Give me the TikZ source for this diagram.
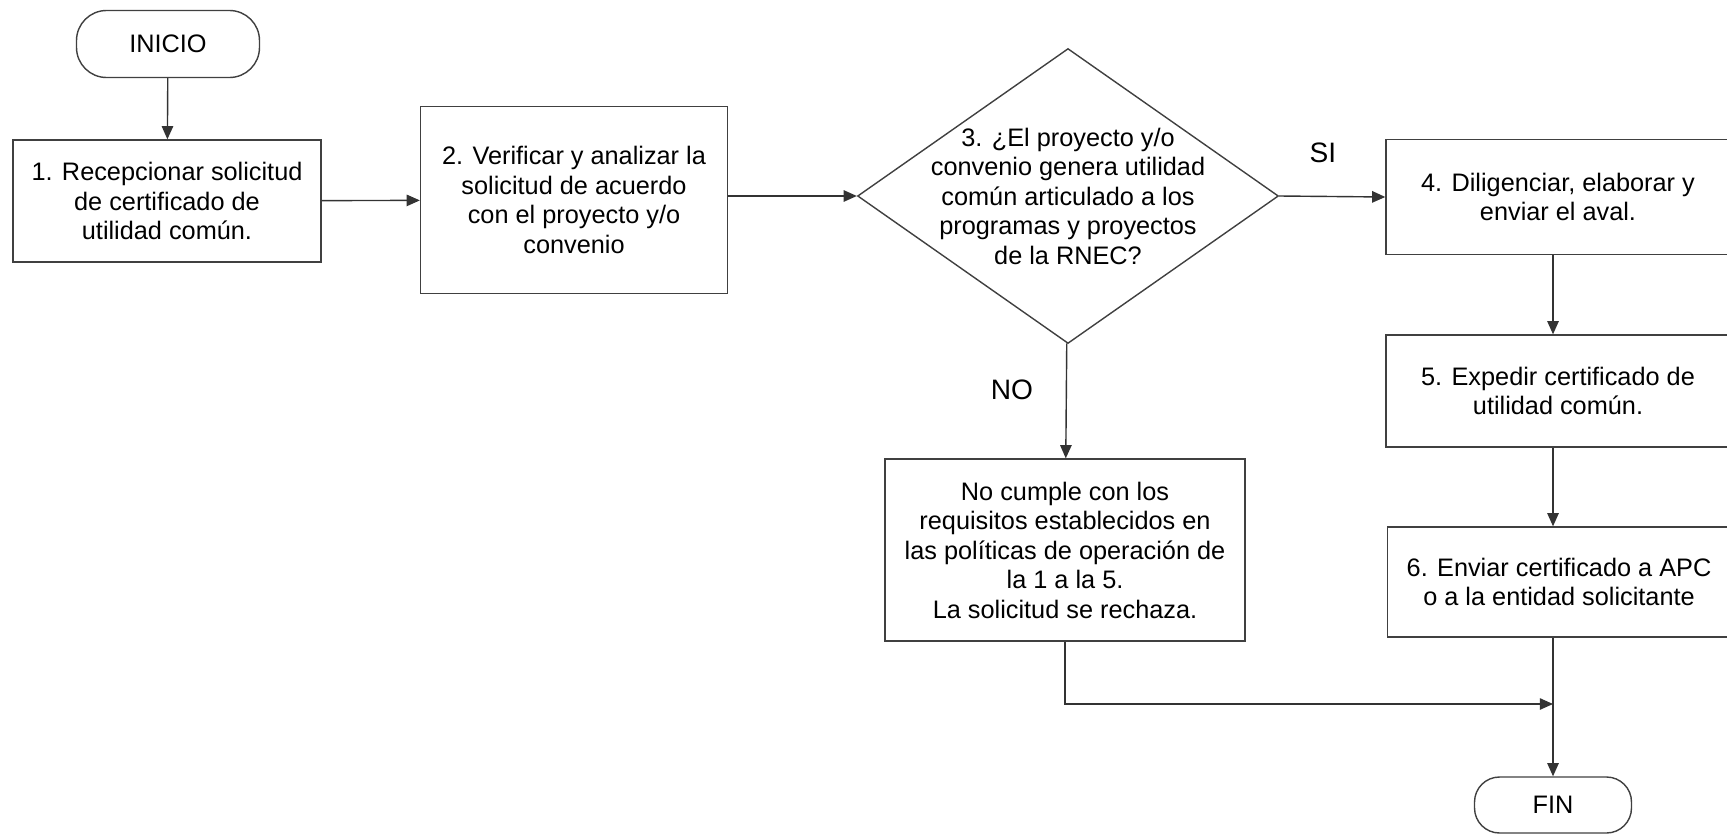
\documentclass[tikz,border=0pt]{standalone}
\usepackage{fontspec}
\setmainfont{Liberation Sans}
\usetikzlibrary{shapes.geometric,arrows.meta}

\begin{document}
\begin{tikzpicture}[x=0.02cm,y=-0.02cm,
    every node/.style={font=\fontsize{14.4}{16.8}\selectfont,align=center},
    proceso/.style={rectangle,draw=black!75,line width=0.8pt,inner sep=2pt},
    terminal/.style={rectangle,draw=black!75,line width=0.8pt,rounded corners=0.6cm},
    decision/.style={diamond,draw=black!75,line width=0.8pt,inner sep=-2cm,
        minimum width=8.42cm,minimum height=5.9cm},
    etiqueta/.style={font=\fontsize{16}{19}\selectfont},
    flecha/.style={black!80,line width=0.8pt,-{Triangle[length=7.5pt,width=6.5pt]}}]
    \useasboundingbox (0,0) rectangle (1727,835);
    \begin{scope}
        \node[terminal,minimum width=3.66cm,minimum height=1.34cm] (inicio) at (168,44) {INICIO};
        \node[proceso,minimum width=6.16cm,minimum height=2.44cm] (1) at (167,201)
            {1. Recepcionar solicitud\\de certificado de\\utilidad común.};
        \node[proceso,minimum width=6.14cm,minimum height=3.74cm] (2) at (574,200)
            {2. Verificar y analizar la\\solicitud de acuerdo\\con el proyecto y/o\\convenio};
        \node[decision] (3) at (1068,196)
            {3. ¿El proyecto y/o\\convenio genera utilidad\\común articulado a los\\programas y proyectos\\de la RNEC?};
        \node[proceso,minimum width=6.88cm,minimum height=2.3cm] (4) at (1558,197)
            {4. Diligenciar, elaborar y\\enviar el aval.};
        \node[proceso,minimum width=6.88cm,minimum height=2.24cm] (5) at (1558,391)
            {5. Expedir certificado de\\utilidad común.};
        \node[proceso,minimum width=6.86cm,minimum height=2.2cm] (6) at (1559,582)
            {6. Enviar certificado a APC\\o a la entidad solicitante};
        \node[proceso,minimum width=7.2cm,minimum height=3.64cm] (no) at (1065,550)
            {No cumple con los\\requisitos establecidos en\\las políticas de operación de\\la 1 a la 5.\\La solicitud se rechaza.};
        \node[terminal,rounded corners=0.5cm,minimum width=3.14cm,minimum height=1.12cm] (fin) at (1553,805) {FIN};
        \node[etiqueta] (si) at (1323,153) {SI};
        \node[etiqueta] (nolbl) at (1012,390) {NO};
        \coordinate (union) at (1553,704);
    \end{scope}
    \begin{scope}
        \path[flecha]
            (inicio) edge (1)
            (1) edge (2)
            (3.west -| 2.east) edge (3.west)
            (3.east) edge (4.west)
            (4.south -| fin) edge (5.north -| fin)
            (5.south -| fin) edge (6.north -| fin)
            (3) edge (no)
            (6.south -| fin) edge (fin);
        \draw[flecha] (no.south) |- (union);
    \end{scope}
\end{tikzpicture}
\end{document}
